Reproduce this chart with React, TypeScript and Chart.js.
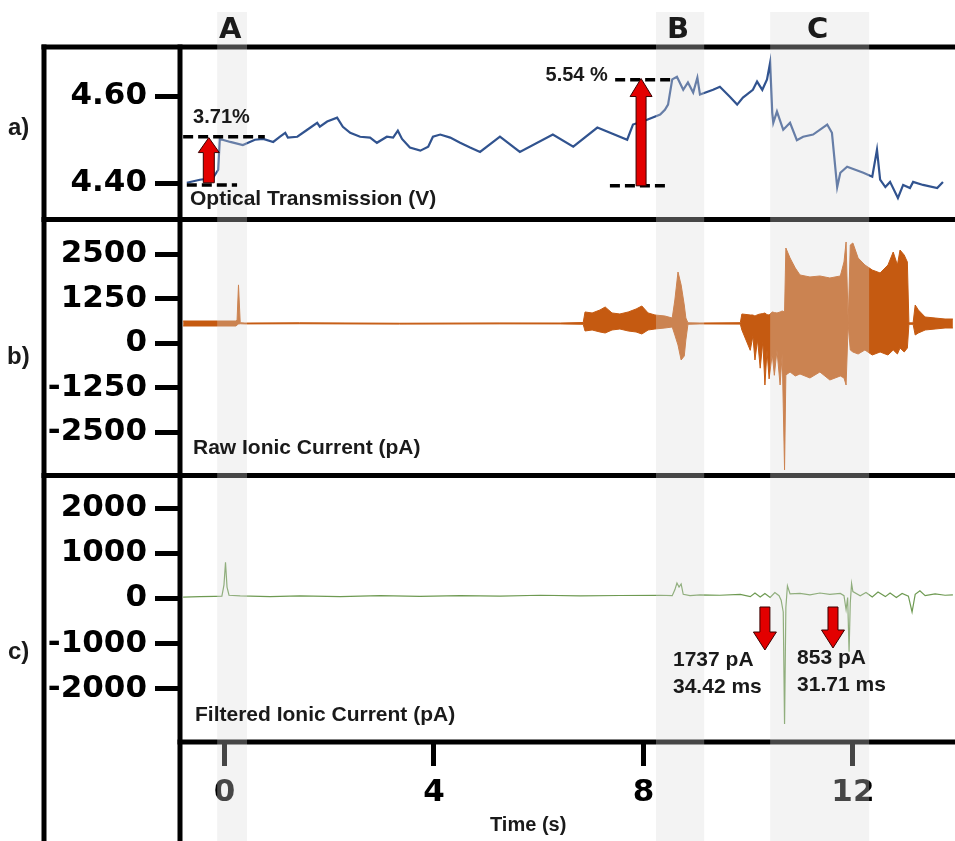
import React, { useEffect, useRef } from 'react';
import { Chart, registerables } from 'chart.js';

Chart.register(...registerables);

// ---------------- axes ----------------
const X_MIN = -0.85;
const X_MAX = 13.95;
const X_TICKS = [0, 4, 8, 12];
const X_TICK_LABELS = ['0', '4', '8', '12'];
const X_TITLE = 'Time (s)';

const A_MIN = 4.3164;
const A_MAX = 4.7136;
const A_TICKS = [4.6, 4.4];
const A_TICK_LABELS = ['4.60', '4.40'];

const B_MIN = -3708;
const B_MAX = 3467;
const B_TICKS = [2500, 1250, 0, -1250, -2500];
const B_TICK_LABELS = ['2500', '1250', '0', '-1250', '-2500'];

const C_MIN = -3176;
const C_MAX = 2719;
const C_TICKS = [2000, 1000, 0, -1000, -2000];
const C_TICK_LABELS = ['2000', '1000', '0', '-1000', '-2000'];

const PANEL_TITLES = ['Optical Transmission (V)', 'Raw Ionic Current (pA)', 'Filtered Ionic Current (pA)'];
const PANEL_LETTERS = ['a)', 'b)', 'c)'];

// ---------------- shaded bands ----------------
const BAND_LABELS = ['A', 'B', 'C'];
const BAND_START = [-0.14, 8.24, 10.42];
const BAND_END = [0.43, 9.16, 12.31];

// ---------------- a) optical transmission (V) ----------------
const OPT_T = [
  -0.72, -0.47, -0.22, -0.12, -0.09, 0.11, 0.35, 0.58, 0.74, 0.93, 1.06, 1.16, 1.21, 1.39, 1.58, 1.77,
  1.82, 1.96, 2.15, 2.26, 2.4, 2.59, 2.78, 2.91, 3.1, 3.22, 3.31, 3.39, 3.54, 3.74, 3.89, 3.98, 4.12,
  4.31, 4.5, 4.69, 4.88, 5.26, 5.64, 6.27, 6.66, 7.12, 7.69, 7.8, 8.07, 8.32, 8.41, 8.47, 8.55, 8.64,
  8.76, 8.85, 8.95, 9.03, 9.08, 9.33, 9.46, 9.65, 9.79, 9.9, 10.09, 10.17, 10.27, 10.36, 10.42, 10.46,
  10.48, 10.55, 10.67, 10.8, 10.93, 11.05, 11.24, 11.51, 11.6, 11.7, 11.76, 11.89, 12.2, 12.37, 12.46,
  12.52, 12.62, 12.71, 12.86, 12.96, 13.09, 13.15, 13.34, 13.61, 13.72,
];
const OPT_V = [
  4.401, 4.408, 4.412, 4.431, 4.502, 4.495, 4.488, 4.5, 4.502, 4.495, 4.507, 4.516, 4.505, 4.507, 4.523,
  4.539, 4.53, 4.542, 4.551, 4.53, 4.516, 4.507, 4.505, 4.493, 4.507, 4.505, 4.521, 4.502, 4.482, 4.475,
  4.484, 4.507, 4.512, 4.505, 4.493, 4.482, 4.472, 4.507, 4.472, 4.512, 4.484, 4.528, 4.5, 4.535, 4.546,
  4.558, 4.569, 4.581, 4.639, 4.645, 4.615, 4.632, 4.609, 4.643, 4.604, 4.615, 4.622, 4.599, 4.581,
  4.597, 4.615, 4.634, 4.615, 4.639, 4.678, 4.562, 4.539, 4.565, 4.523, 4.539, 4.499, 4.507, 4.512,
  4.535, 4.516, 4.391, 4.424, 4.438, 4.424, 4.415, 4.477, 4.408, 4.391, 4.403, 4.366, 4.396, 4.389,
  4.403, 4.396, 4.389, 4.403,
];

// ---------------- b) raw ionic current (pA), envelope ----------------
const RAW_T = [
  -0.79, 0.22, 0.24, 0.267, 0.3, 0.39, 1.43, 3.34, 5.26, 6.41, 6.85, 6.885, 7.02, 7.17, 7.27, 7.4, 7.55,
  7.71, 7.86, 7.97, 8.09, 8.22, 8.41, 8.55, 8.6, 8.66, 8.72, 8.78, 8.81, 8.85, 9.08, 9.85, 9.88, 10.04,
  10.09, 10.13, 10.18, 10.23, 10.28, 10.32, 10.36, 10.4, 10.46, 10.5, 10.55, 10.61, 10.65, 10.695, 10.72,
  10.8, 10.9, 10.99, 11.18, 11.37, 11.56, 11.76, 11.83, 11.87, 11.91, 11.95, 12.0, 12.1, 12.23, 12.37,
  12.52, 12.67, 12.77, 12.85, 12.9, 12.98, 13.04, 13.07, 13.15, 13.19, 13.25, 13.38, 13.57, 13.76, 13.91,
];
const RAW_HIGH = [
  622, 622, 650, 1634, 575, 565, 572, 560, 568, 566, 580, 875, 847, 931, 1015, 847, 819, 875, 959, 1043,
  847, 791, 762, 706, 1211, 1996, 1634, 1071, 706, 572, 566, 575, 819, 791, 790, 762, 800, 819, 830, 847,
  800, 791, 875, 860, 847, 875, 903, 875, 2668, 2388, 2108, 1912, 1856, 1884, 1828, 1884, 2276, 2837,
  570, 2753, 2809, 2388, 2192, 2052, 1968, 2192, 2556, 2192, 2612, 2472, 2276, 570, 570, 1071, 931, 734,
  706, 678, 678,
];
const RAW_LOW = [
  482, 482, 510, 538, 545, 540, 545, 535, 542, 540, 530, 342, 370, 314, 286, 370, 398, 342, 314, 258, 370,
  398, 426, 454, 230, -50, -471, -359, 90, 530, 540, 535, 370, -200, 200, -471, 100, -700, 50, -1172,
  -200, -1000, -300, -900, -200, -1172, -300, -3550, -891, -807, -919, -863, -975, -807, -1031, -919,
  -975, -1172, 530, -190, -247, -303, -190, -331, -247, -331, -190, -303, -135, -247, -135, 530, 530, 230,
  286, 370, 398, 426, 426,
];

// ---------------- c) filtered ionic current (pA) ----------------
const FILT_T = [
  -0.79, -0.47, -0.18, -0.05, -0.01, 0.019, 0.048, 0.086, 0.3, 0.87, 1.44, 2.21, 2.97, 3.73, 4.5, 5.26,
  6.03, 6.79, 7.55, 8.32, 8.55, 8.6, 8.64, 8.68, 8.72, 8.76, 8.89, 9.08, 9.46, 9.85, 10.04, 10.13, 10.23,
  10.32, 10.42, 10.51, 10.59, 10.63, 10.67, 10.695, 10.72, 10.75, 10.8, 10.99, 11.18, 11.37, 11.56,
  11.76, 11.83, 11.87, 11.9, 11.927, 11.95, 11.975, 12.0, 12.14, 12.25, 12.37, 12.48, 12.62, 12.71,
  12.83, 12.94, 13.06, 13.13, 13.19, 13.28, 13.38, 13.57, 13.76, 13.91,
];
const FILT_V = [
  30, 40, 45, 50, 300, 800, 250, 70, 55, 40, 55, 40, 60, 45, 60, 50, 70, 55, 65, 70, 60, 190, 340, 250,
  320, 90, 60, 80, 70, 90, 40, 120, 30, 110, 20, 130, 60, -40, -300, -2780, -200, 280, 100, 110, 80, 120,
  90, 110, 60, -250, 20, -1180, -100, 330, 150, 60, 130, 30, 140, 40, 120, 20, 110, 50, -300, 90, 170, 60,
  100, 70, 80,
];

// ---------------- annotations ----------------
const DASH_Y = [4.507, 4.396, 4.638, 4.394];
const DASH_FROM = [-0.79, -0.72, 7.46, 7.36];
const DASH_TO = [0.77, 0.24, 8.57, 8.47];

const ARROW_AXIS = ['yA', 'yA', 'yC', 'yC'];
const ARROW_T = [-0.3, 7.955, 10.32, 11.62];
const ARROW_FROM = [4.401, 4.394, -190, -190];
const ARROW_TO = [4.505, 4.641, -1141, -1097];
const ARROW_SHAFT_W = [11, 10, 10, 10];
const ARROW_HEAD_W = [21, 22, 23, 23];
const ARROW_HEAD_L = [15, 18, 18, 18];

const NOTE_TEXT = ['3.71%', '5.54 %', '1737 pA', '34.42 ms', '853 pA', '31.71 ms'];
const NOTE_AXIS = ['yA', 'yA', 'yC', 'yC', 'yC', 'yC'];
const NOTE_T = [-0.6, 7.32, 8.565, 8.565, 10.934, 10.934];
const NOTE_V = [4.551, 4.648, -1363, -1958, -1318, -1916];
const NOTE_ALIGN: CanvasTextAlign[] = ['left', 'right', 'left', 'left', 'left', 'left'];
const NOTE_SIZE = [20, 20, 21, 21, 21, 21];

const TEXT_FONT = "'Liberation Sans', Arial, sans-serif";
const TICK_FONT = "'DejaVu Sans', sans-serif";

function drawArrow(ctx: CanvasRenderingContext2D, x: number, yBase: number, yTip: number, sw: number, hw: number, hl: number) {
  const dir = yTip < yBase ? 1 : -1;
  const yNeck = yTip + dir * hl;
  ctx.beginPath();
  ctx.moveTo(x - sw / 2, yBase);
  ctx.lineTo(x - sw / 2, yNeck);
  ctx.lineTo(x - hw / 2, yNeck);
  ctx.lineTo(x, yTip);
  ctx.lineTo(x + hw / 2, yNeck);
  ctx.lineTo(x + sw / 2, yNeck);
  ctx.lineTo(x + sw / 2, yBase);
  ctx.closePath();
  ctx.fill();
  ctx.stroke();
}

const figurePlugin = {
  id: 'figureDecor',
  beforeDatasetsDraw(chart: any) {
    const { ctx, chartArea } = chart;
    const yA = chart.scales.yA;
    const yB = chart.scales.yB;
    const outer = 44;
    const seg = (x1: number, y1: number, x2: number, y2: number) => {
      ctx.beginPath();
      ctx.moveTo(x1, y1);
      ctx.lineTo(x2, y2);
      ctx.stroke();
    };
    ctx.save();
    ctx.strokeStyle = '#000';
    ctx.lineWidth = 5;
    seg(outer - 2.5, chartArea.top, chartArea.right, chartArea.top);
    seg(outer - 2.5, yA.bottom, chartArea.right, yA.bottom);
    seg(outer - 2.5, yB.bottom, chartArea.right, yB.bottom);
    seg(chartArea.left - 2.5, chartArea.bottom, chartArea.right, chartArea.bottom);
    seg(chartArea.left, chartArea.top - 2.5, chartArea.left, chart.height);
    seg(outer, chartArea.top - 2.5, outer, chart.height);
    ctx.restore();
  },
  afterDatasetsDraw(chart: any) {
    const { ctx } = chart;
    const x = chart.scales.x;
    ctx.save();
    ctx.fillStyle = 'rgba(218,218,218,0.32)';
    BAND_START.forEach((s, i) => {
      const x1 = x.getPixelForValue(s);
      const x2 = x.getPixelForValue(BAND_END[i]);
      ctx.fillRect(x1, 12, x2 - x1, chart.height - 12);
    });
    ctx.restore();
  },
  afterDraw(chart: any) {
    const { ctx, chartArea } = chart;
    const x = chart.scales.x;
    const yA = chart.scales.yA;
    const yB = chart.scales.yB;
    const yC = chart.scales.yC;
    ctx.save();

    // dashed level lines
    ctx.strokeStyle = '#000';
    ctx.lineWidth = 3.5;
    ctx.setLineDash([10, 5]);
    DASH_Y.forEach((v, i) => {
      const y = yA.getPixelForValue(v);
      ctx.beginPath();
      ctx.moveTo(x.getPixelForValue(DASH_FROM[i]), y);
      ctx.lineTo(x.getPixelForValue(DASH_TO[i]), y);
      ctx.stroke();
    });
    ctx.setLineDash([]);

    // red arrows
    ctx.fillStyle = '#e30000';
    ctx.strokeStyle = '#3a0000';
    ctx.lineWidth = 1;
    ARROW_T.forEach((t, i) => {
      const s = chart.scales[ARROW_AXIS[i]];
      drawArrow(ctx, x.getPixelForValue(t), s.getPixelForValue(ARROW_FROM[i]), s.getPixelForValue(ARROW_TO[i]),
        ARROW_SHAFT_W[i], ARROW_HEAD_W[i], ARROW_HEAD_L[i]);
    });

    // notes
    ctx.fillStyle = '#1a1a1a';
    ctx.textBaseline = 'middle';
    NOTE_TEXT.forEach((txt, i) => {
      const s = chart.scales[NOTE_AXIS[i]];
      ctx.font = `bold ${NOTE_SIZE[i]}px ${TEXT_FONT}`;
      ctx.textAlign = NOTE_ALIGN[i];
      ctx.fillText(txt, x.getPixelForValue(NOTE_T[i]), s.getPixelForValue(NOTE_V[i]));
    });

    // panel titles
    ctx.font = `bold 21px ${TEXT_FONT}`;
    ctx.textAlign = 'left';
    ctx.fillText(PANEL_TITLES[0], chartArea.left + 10, yA.bottom - 20);
    ctx.fillText(PANEL_TITLES[1], chartArea.left + 13, yB.bottom - 27);
    ctx.fillText(PANEL_TITLES[2], chartArea.left + 15, yC.bottom - 27);

    // panel letters
    ctx.font = `bold 24px ${TEXT_FONT}`;
    ctx.fillText(PANEL_LETTERS[0], 8, yA.top + 81);
    ctx.fillText(PANEL_LETTERS[1], 7, yB.top + 138);
    ctx.fillText(PANEL_LETTERS[2], 8, yC.top + 177);

    // band letters
    ctx.font = `bold 29px ${TICK_FONT}`;
    ctx.textAlign = 'center';
    BAND_LABELS.forEach((lab, i) => {
      const cx = (x.getPixelForValue(BAND_START[i]) + x.getPixelForValue(BAND_END[i])) / 2 - 2;
      ctx.fillText(lab, cx, 30);
    });

    // x title
    ctx.font = `bold 20px ${TEXT_FONT}`;
    ctx.textAlign = 'left';
    ctx.fillText(X_TITLE, 490, 825);

    ctx.restore();
  },
};

function yAxis(min: number, max: number, ticks: number[], labels: string[], weight: number) {
  return {
    type: 'linear' as const,
    position: 'left' as const,
    stack: 'panels',
    stackWeight: weight,
    min,
    max,
    afterBuildTicks: (scale: any) => {
      scale.ticks = ticks.map((v) => ({ value: v }));
    },
    afterFit: (scale: any) => {
      scale.width = 180;
    },
    border: { display: false },
    grid: {
      drawOnChartArea: false,
      drawTicks: true,
      tickLength: 25,
      tickWidth: 5,
      tickColor: '#000',
    },
    ticks: {
      font: { family: TICK_FONT, size: 31, weight: 'bold' as const },
      color: '#000',
      padding: 8,
      autoSkip: false,
      callback: (_v: any, i: number) => labels[i],
    },
  };
}

export default function App() {
  const ref = useRef<HTMLCanvasElement>(null);

  useEffect(() => {
    if (!ref.current) return;
    const toPts = (t: number[], v: number[]) => t.map((tt, i) => ({ x: tt, y: v[i] }));
    const chart = new Chart(ref.current, {
      type: 'line',
      data: {
        datasets: [
          {
            label: 'Optical Transmission (V)',
            data: toPts(OPT_T, OPT_V),
            yAxisID: 'yA',
            xAxisID: 'x',
            borderColor: '#31538f',
            borderWidth: 2.2,
            pointRadius: 0,
            tension: 0,
            fill: false,
          },
          {
            label: 'Raw high',
            data: toPts(RAW_T, RAW_HIGH),
            yAxisID: 'yB',
            xAxisID: 'x',
            borderColor: '#c55a11',
            backgroundColor: '#c55a11',
            borderWidth: 1,
            pointRadius: 0,
            tension: 0,
            fill: false,
          },
          {
            label: 'Raw low',
            data: toPts(RAW_T, RAW_LOW),
            yAxisID: 'yB',
            xAxisID: 'x',
            borderColor: '#c55a11',
            backgroundColor: '#c55a11',
            borderWidth: 1,
            pointRadius: 0,
            tension: 0,
            fill: '-1',
          },
          {
            label: 'Filtered',
            data: toPts(FILT_T, FILT_V),
            yAxisID: 'yC',
            xAxisID: 'x',
            borderColor: '#6e9a52',
            borderWidth: 1.2,
            pointRadius: 0,
            tension: 0,
            fill: false,
          },
        ],
      },
      options: {
        animation: false,
        responsive: false,
        maintainAspectRatio: false,
        devicePixelRatio: 1,
        layout: { padding: { top: 47, left: 0, right: 0, bottom: 0 }, autoPadding: false },
        plugins: { legend: { display: false }, tooltip: { enabled: false } },
        scales: {
          x: {
            type: 'linear',
            position: 'bottom',
            min: X_MIN,
            max: X_MAX,
            afterBuildTicks: (scale: any) => {
              scale.ticks = X_TICKS.map((v) => ({ value: v }));
            },
            afterFit: (scale: any) => {
              scale.height = 99;
            },
            border: { display: false },
            grid: {
              drawOnChartArea: false,
              drawTicks: true,
              tickLength: 24,
              tickWidth: 5,
              tickColor: '#000',
            },
            ticks: {
              font: { family: TICK_FONT, size: 31, weight: 'bold' },
              color: '#000',
              padding: 8,
              maxRotation: 0,
              autoSkip: false,
              callback: (_v: any, i: number) => X_TICK_LABELS[i],
            },
          },
          yC: yAxis(C_MIN, C_MAX, C_TICKS, C_TICK_LABELS, 266.5),
          yB: yAxis(B_MIN, B_MAX, B_TICKS, B_TICK_LABELS, 256),
          yA: yAxis(A_MIN, A_MAX, A_TICKS, A_TICK_LABELS, 172.5),
        } as any,
      },
      plugins: [figurePlugin],
    });
    return () => chart.destroy();
  }, []);

  return (
    <div style={{ position: 'fixed', left: 0, top: 0, width: 955, height: 841, background: '#fff' }}>
      <canvas ref={ref} width={955} height={841} style={{ display: 'block', width: 955, height: 841 }} />
    </div>
  );
}
